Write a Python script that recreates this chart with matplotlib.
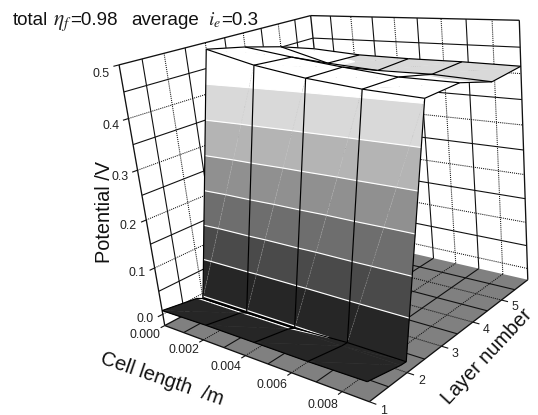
import numpy as np
import matplotlib
matplotlib.use('Agg')
import matplotlib.pyplot as plt
from matplotlib.text import Text
from mpl_toolkits.mplot3d.art3d import Poly3DCollection, Line3DCollection

plt.rcParams['font.family'] = ['Liberation Sans', 'DejaVu Sans']
plt.rcParams['mathtext.fontset'] = 'stix'

# surface nodes
cell_length = [0.0, 0.00225, 0.0045, 0.00675, 0.009]
layer_rows = [1, 1.85, 2, 3, 4, 5, 6]
row_1 = [0.008, 0.010, 0.010, 0.010, 0.012]
row_1b = [-0.004, -0.004, -0.004, -0.003, -0.003]
row_2 = [-0.011, -0.011, -0.010, -0.004, -0.004]
row_3 = [0.487, 0.462, 0.445, 0.434, 0.428]
row_4 = [0.471, 0.456, 0.443, 0.432, 0.430]
row_5 = [0.451, 0.422, 0.414, 0.414, 0.408]
row_6 = [0.426, 0.418, 0.416, 0.416, 0.414]
potential = [row_1, row_1b, row_2, row_3, row_4, row_5, row_6]

# contour bands
band_edges = [-0.05, -0.006, 0.07, 0.14, 0.21, 0.28, 0.35, 0.42, 0.6]
band_colors = ['#000000', '#262626', '#4a4a4a', '#6e6e6e', '#909090', '#b4b4b4', '#d9d9d9', '#ffffff']
contour_levels = [-0.006, 0.07, 0.14, 0.21, 0.28, 0.35, 0.42]

# axes
x_lim = (0.0, 0.009)
y_lim = (1.0, 6.0)
z_lim = (-0.025, 0.5)
x_ticks = [0.000, 0.002, 0.004, 0.006, 0.008]
x_tick_labels = ['0.000', '0.002', '0.004', '0.006', '0.008']
y_ticks = [1, 2, 3, 4, 5]
y_tick_labels = ['1', '2', '3', '4', '5']
z_ticks = [0.0, 0.1, 0.2, 0.3, 0.4, 0.5]
z_tick_labels = ['0.0', '0.1', '0.2', '0.3', '0.4', '0.5']
x_solid = [0.001, 0.003, 0.005, 0.007]
x_dotted = [0.002, 0.004, 0.006, 0.008]
y_solid = [1.5, 2.5, 3.5, 4.5, 5.5]
y_dotted = [2, 3, 4, 5]
z_solid = [0.05, 0.15, 0.25, 0.35, 0.45]
z_dotted = [0.0, 0.1, 0.2, 0.3, 0.4]

fig = plt.figure(figsize=(5.38, 4.15), dpi=100)
ax = fig.add_axes([59.14 / 538, -39.88 / 415, 1, 538 / 415], projection='3d')
ax.set_xlim(*x_lim)
ax.set_ylim(*y_lim)
ax.set_zlim(*z_lim)
ax.view_init(18.2073, -47.8726, 5.8586)
ax.set_proj_type('persp', focal_length=0.3075)
ax.set_box_aspect((0.9864, 0.9903, 1), zoom=0.8516)
ax.set_xticks([])
ax.set_yticks([])
ax.set_zticks([])
ax.set_axis_off()
ax.computed_zorder = False

# the unused empty titles and axis labels sit above the figure
for t in ax.findobj(Text):
    if not t.get_text():
        t.set_visible(False)


def clip_above(poly, level, keep_above=True):
    # cut a polygon along z = level
    out = []
    for i in range(len(poly)):
        a, b = np.array(poly[i]), np.array(poly[(i + 1) % len(poly)])
        da, db = a[2] - level, b[2] - level
        if not keep_above:
            da, db = -da, -db
        if da >= 0:
            out.append(tuple(a))
        if da * db < 0:
            out.append(tuple(a + (b - a) * da / (da - db)))
    return out


def level_segment(tri, level):
    # where a triangle crosses z = level
    hits = []
    for i in range(3):
        a, b = np.array(tri[i]), np.array(tri[(i + 1) % 3])
        da, db = a[2] - level, b[2] - level
        if da * db < 0:
            hits.append(tuple(a + (b - a) * da / (da - db)))
    return hits if len(hits) == 2 else None


# split the surface cells into triangles
triangles = []
diagonals = []
for j in range(len(layer_rows) - 1):
    for i in range(len(cell_length) - 1):
        p00 = (cell_length[i], layer_rows[j], potential[j][i])
        p10 = (cell_length[i + 1], layer_rows[j], potential[j][i + 1])
        p11 = (cell_length[i + 1], layer_rows[j + 1], potential[j + 1][i + 1])
        p01 = (cell_length[i], layer_rows[j + 1], potential[j + 1][i])
        triangles.append([p00, p10, p11])
        triangles.append([p00, p11, p01])
        if layer_rows[j] == 2:
            diagonals.append([p00, p11])

polys = []
poly_colors = []
for tri in triangles:
    for k, color in enumerate(band_colors):
        piece = clip_above(tri, band_edges[k], True)
        if len(piece) >= 3:
            piece = clip_above(piece, band_edges[k + 1], False)
        if len(piece) >= 3:
            polys.append(piece)
            poly_colors.append(color)

contour_segs = []
for tri in triangles:
    for level in contour_levels:
        seg = level_segment(tri, level)
        if seg:
            contour_segs.append(seg)

# mesh lines, the helper row 1.85 has none
mesh_segs = []
for j, y in enumerate(layer_rows):
    if y == 1.85:
        continue
    for i in range(len(cell_length) - 1):
        mesh_segs.append([(cell_length[i], y, potential[j][i]), (cell_length[i + 1], y, potential[j][i + 1])])
for i, x in enumerate(cell_length):
    for j in range(len(layer_rows) - 1):
        mesh_segs.append([(x, layer_rows[j], potential[j][i]), (x, layer_rows[j + 1], potential[j + 1][i])])

# floor
x0, x1 = x_lim
y0, y1 = y_lim
z0, z1 = z_lim
floor = Poly3DCollection([[(x0, y0, z0), (x1, y0, z0), (x1, y1, z0), (x0, y1, z0)]],
                         facecolors='#808080', edgecolors='none', zorder=1)
ax.add_collection3d(floor)

# grids on the two walls and the floor
solid = []
dotted = []
for y in y_solid:
    solid.append([(x0, y, z0), (x0, y, z1)])
    solid.append([(x0, y, z0), (x1, y, z0)])
for y in y_dotted:
    dotted.append([(x0, y, z0), (x0, y, z1)])
    dotted.append([(x0, y, z0), (x1, y, z0)])
for x in x_solid:
    solid.append([(x, y1, z0), (x, y1, z1)])
    solid.append([(x, y0, z0), (x, y1, z0)])
for x in x_dotted:
    dotted.append([(x, y1, z0), (x, y1, z1)])
    dotted.append([(x, y0, z0), (x, y1, z0)])
for z in z_solid:
    solid.append([(x0, y0, z), (x0, y1, z)])
    solid.append([(x0, y1, z), (x1, y1, z)])
for z in z_dotted:
    dotted.append([(x0, y0, z), (x0, y1, z)])
    dotted.append([(x0, y1, z), (x1, y1, z)])
ax.add_collection3d(Line3DCollection(solid, colors='#111111', linewidths=0.8, zorder=2))
ax.add_collection3d(Line3DCollection(dotted, colors='#111111', linewidths=0.75, linestyles=[(0, (1, 1))], zorder=2))

# box edges
edges = [[(x0, y0, z0), (x0, y0, z1)], [(x0, y1, z0), (x0, y1, z1)], [(x1, y1, z0), (x1, y1, z1)],
         [(x0, y0, z1), (x0, y1, z1)], [(x0, y1, z1), (x1, y1, z1)],
         [(x0, y0, z0), (x1, y0, z0)], [(x1, y0, z0), (x1, y1, z0)], [(x0, y0, z0), (x0, y1, z0)]]
ax.add_collection3d(Line3DCollection(edges, colors='#111111', linewidths=0.95, zorder=3))

# tick marks
tick_segs = [[(x, y0, z0), (x, y0 - 0.1, z0)] for x in x_ticks]
tick_segs += [[(x1, y, z0), (x1 + 0.00025, y, z0)] for y in y_ticks]
tick_segs += [[(x0, y0, z), (x0, y0 - 0.12, z)] for z in z_ticks]
ax.add_collection3d(Line3DCollection(tick_segs, colors='#111111', linewidths=0.8, zorder=3))

# surface
ax.add_collection3d(Poly3DCollection(polys, facecolors=poly_colors, edgecolors=poly_colors,
                                     linewidths=0.25, zorder=5))
ax.add_collection3d(Line3DCollection(diagonals, colors='#c4c4c4', linewidths=0.35, alpha=0.7,
                                     linestyles=[(0, (4, 1.5))], zorder=6))
ax.add_collection3d(Line3DCollection(contour_segs, colors='white', linewidths=0.85, zorder=6))
ax.add_collection3d(Line3DCollection(mesh_segs, colors='black', linewidths=0.85, zorder=7))

# tick labels
for x, s in zip(x_ticks, x_tick_labels):
    ax.text(x, y0 - 0.47, z0 + 0.002, s, ha='center', va='center', fontsize=8.9, color='#222222', zorder=8)
for y, s in zip(y_ticks, y_tick_labels):
    ax.text(x1 + 0.0005, y, z0 - 0.008, s, ha='center', va='center', fontsize=8.9, color='#222222', zorder=8)
for z, s in zip(z_ticks, z_tick_labels):
    ax.text(x0, y0 - 0.22, z * 0.978, s, ha='right', va='center', fontsize=8.9, color='#222222', zorder=8)

fig.text(104 / 538, 1 - 212 / 415, 'Potential /V', rotation=90, ha='center', va='center', fontsize=14.3, color='#111111')
fig.text(162 / 538, 1 - 379 / 415, 'Cell length  /m', rotation=-19, ha='center', va='center', fontsize=14.5, color='#111111')
fig.text(487 / 538, 1 - 357 / 415, 'Layer number', rotation=47, ha='center', va='center', fontsize=14.3, color='#111111')

# title pieces
title_y = 1 - 25 / 415
fig.text(13 / 538, title_y, 'total', ha='left', va='baseline', fontsize=13.5, color='#111111')
fig.text(53 / 538, title_y, r'$\eta_f$', ha='left', va='baseline', fontsize=15.5, color='#222222')
fig.text(70 / 538, title_y, '=0.98', ha='left', va='baseline', fontsize=13.5, color='#111111')
fig.text(131 / 538, title_y, 'average', ha='left', va='baseline', fontsize=13.5, color='#111111')
fig.text(208 / 538, title_y, r'$i_e$', ha='left', va='baseline', fontsize=14, color='#222222')
fig.text(221 / 538, title_y, '=0.3', ha='left', va='baseline', fontsize=13.5, color='#111111')

fig.savefig('out.png', dpi=100)
